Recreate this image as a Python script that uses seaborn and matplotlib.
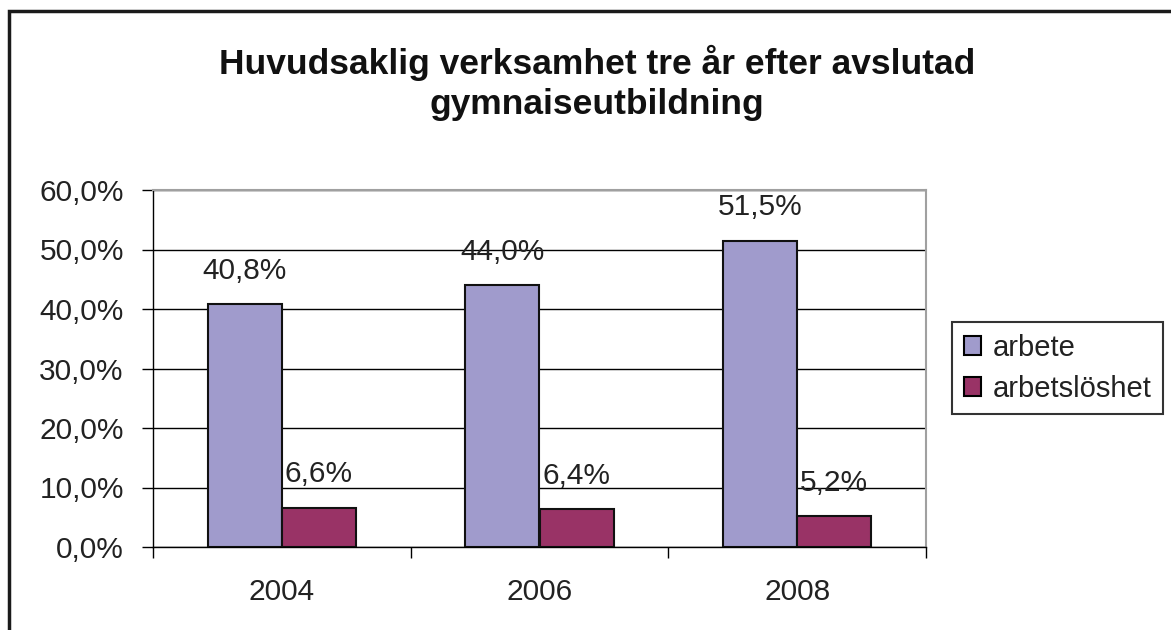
import pandas as pd
import seaborn as sns
import matplotlib.pyplot as plt
from matplotlib.patches import Patch, Rectangle
from matplotlib.ticker import FuncFormatter

years = ["2004", "2006", "2008"]
arbete = [40.8, 44.0, 51.5]
arbetsloshet = [6.6, 6.4, 5.2]
series = ["arbete", "arbetslöshet"]
colors = ["#a09bcc", "#993366"]

df = pd.DataFrame({
    "year": years * 2,
    "value": arbete + arbetsloshet,
    "serie": [series[0]] * 3 + [series[1]] * 3,
})

sns.set_theme(style="white")
plt.rcParams["font.family"] = ["Liberation Sans", "DejaVu Sans"]

fig = plt.figure(figsize=(11.71, 6.30), dpi=100)
ax = fig.add_axes([153 / 1171, 1 - 547 / 630, (926 - 153) / 1171, (547 - 190) / 630])

sns.barplot(data=df, x="year", y="value", hue="serie", palette=colors,
            width=0.575, edgecolor="#111111", linewidth=1.5, ax=ax,
            legend=False, saturation=1)

ax.set_ylim(0, 60)
ax.set_xlim(-0.5, 2.5)
ax.set_yticks(range(0, 61, 10))
ax.yaxis.set_major_formatter(FuncFormatter(lambda v, p: f"{v:.1f}%".replace(".", ",")))
ax.set_xlabel("")
ax.set_ylabel("")
ax.grid(axis="y", color="black", linewidth=1)
ax.set_axisbelow(True)

for s in ["top", "right"]:
    ax.spines[s].set_color("#a0a0a0")
    ax.spines[s].set_linewidth(1.5)
for s in ["left", "bottom"]:
    ax.spines[s].set_color("black")
    ax.spines[s].set_linewidth(1)

ax.tick_params(axis="y", left=True, length=8, width=1, color="black",
               labelsize=21.5, pad=13, labelcolor="#222222")
ax.set_xticks([0, 1, 2])
ax.set_xticklabels(years)
ax.tick_params(axis="x", bottom=False, labelsize=21.5, pad=16, labelcolor="#222222")
ax.set_xticks([-0.5, 0.5, 1.5, 2.5], minor=True)
ax.tick_params(axis="x", which="minor", bottom=True, length=8, width=1, color="black")

for cont in ax.containers:
    for bar in cont:
        h = bar.get_height()
        ax.annotate(f"{h:.1f}%".replace(".", ","),
                    (bar.get_x() + bar.get_width() / 2, h),
                    xytext=(0, 24), textcoords="offset points",
                    ha="center", va="center", fontsize=21.5, color="#222222")

fig.text(0.51, 1 - 83 / 630,
         "Huvudsaklig verksamhet tre år efter avslutad\ngymnaiseutbildning",
         ha="center", va="center", fontsize=25.5, fontweight="bold",
         linespacing=1.25, color="#111111")

handles = [Patch(facecolor=c, edgecolor="black", linewidth=1.5) for c in colors]
leg = fig.legend(handles, series, loc="upper left",
                 bbox_to_anchor=(952 / 1171, 1 - 322 / 630),
                 fontsize=21, frameon=True, fancybox=False,
                 handlelength=0.6, handleheight=0.6, handletextpad=0.4,
                 borderpad=0.4, labelspacing=0.45, borderaxespad=0)
leg.get_frame().set_edgecolor("black")
leg.get_frame().set_linewidth(1.5)
for t in leg.get_texts():
    t.set_color("#222222")

fig.patches.append(Rectangle((9 / 1171, -0.1), 1.2, 1 - 11 / 630 + 0.1,
                             transform=fig.transFigure, fill=False,
                             edgecolor="#1a1a1a", linewidth=2.5))

fig.savefig("out.png", dpi=100)
